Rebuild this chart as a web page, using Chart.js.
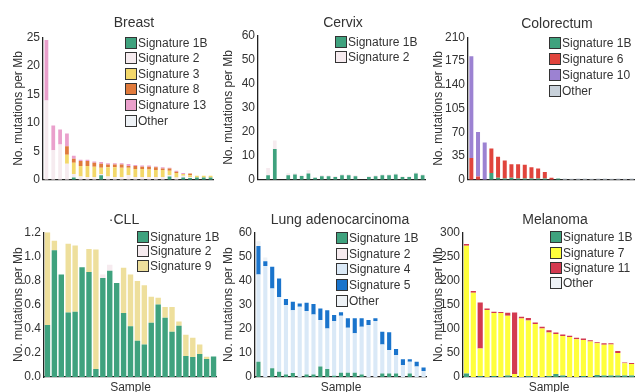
<!DOCTYPE html>
<html>
<head>
<meta charset="utf-8">
<script src="https://cdn.jsdelivr.net/npm/chart.js@4"></script>
<style>
  html, body { margin: 0; padding: 0; background: #fff; overflow: hidden; }
  #wrap { position: relative; width: 635px; height: 392px; font-family: "Liberation Sans", Arial, sans-serif; color: #333; }
  canvas { position: absolute; }
  .title { position: absolute; font-size: 14px; transform: translate(-50%, -50%); white-space: nowrap; }
  .legend { position: absolute; font-size: 12px; white-space: nowrap; }
  .legend div { display: flex; align-items: center; }
  .legend span.sw { display: inline-block; width: 10px; height: 10px; border: 1px solid #333; margin-right: 1px; }
</style>
</head>
<body>
<div id="wrap"></div>
<script>
const samples = ['1','2','3','4','5','6','7','8','9','10','11','12','13','14','15','16','17','18','19','20','21','22','23','24','25'];

// Breast
const breastSig1B  = [0,0,0,0,0.4,0,0,0,0.8,0,0,0,0,0,0,0,0,0,0.6,0,0.4,0.3,0.4,0.4,0.4];
const breastSig2   = [13.9,5.2,6.2,2.8,0.6,0.6,0.5,0.5,0.2,0.6,0.5,0.5,0.8,0.5,0.5,0.5,0.5,0.5,0.2,0.4,0.3,0.2,0,0,0];
const breastSig3   = [0,0,0,1.6,2.0,1.8,1.9,1.8,1.1,1.6,1.7,1.6,1.3,1.4,1.4,1.3,1.2,1.2,0.8,0.8,0.3,0.3,0.3,0.3,0.3];
const breastSig8   = [0,0,0,1.5,0.7,0.9,0.9,0.7,0.7,0.5,0.5,0.6,0.3,0.5,0.4,0.5,0.5,0.3,0.4,0.2,0,0.3,0,0,0];
const breastSig13  = [10.6,4.3,2.6,2.2,0.5,0.2,0.2,0.2,0.3,0.2,0.2,0.2,0.35,0.2,0.2,0.2,0.15,0.2,0.1,0.2,0.2,0,0,0,0];
const breastOther  = [0,0,0,0,0,0,0,0,0,0,0,0,0,0,0,0,0,0,0,0,0,0,0,0,0];

// Cervix
const cervixSig1B  = [0,1.9,12.8,0,1.9,2.2,1.6,2.6,0.8,1.5,1.5,1.2,1.9,1.9,1.5,0,1.2,1.5,1.9,1.9,2.2,1.2,1.2,2.6,1.9];
const cervixSig2   = [0,3.0,3.5,0,0.8,0.5,0.5,1.5,0.4,0.5,0.4,0.4,0.5,0.4,0.4,0,0.4,0.4,0.4,0.4,0.4,0.3,0.3,0.4,0.4];

// Colorectum
const coloSig1B    = [0,0,0,10,3,2,3,2,2,2,2,2,0,2,0,0,0,0,0,0,0,0,0,0,0];
const coloSig6     = [32,5,0,36,31,26.5,20,21,20,16.5,14.5,9.6,3,0,0,0,0,0,0,0,0,0,0,0,0];
const coloSig10    = [150,65.5,55,0,0,0,0,0,0,0,0,0,0,0,0,0,0,0,0,0,0,0,0,0,0];
const coloOther    = [0,0,0,0,0,0,0,0,0,0,0,0,0,0,2,1.5,2,2,1.5,2,2,1.5,2,1.5,2];

// CLL
const cllSig1B     = [0.43,1.05,0.85,0.535,0.54,0.91,0.87,0.066,0.82,0.88,0.78,0.53,0.42,0.30,0.27,0.45,0.60,0.49,0.375,0.425,0.174,0.165,0.19,0.15,0.17];
const cllSig2      = [0,0,0,0,0,0,0,0,0.03,0.05,0,0,0,0,0,0,0,0,0,0,0,0,0,0,0];
const cllSig9      = [0.77,0.08,0,0.57,0.55,0,0.19,0.99,0,0,0,0.375,0.43,0.495,0.49,0.215,0.057,0.09,0.205,0.035,0.176,0.16,0.08,0.018,0];

// Lung adenocarcinoma
const lungSig1B    = [6.3,0,3.6,2.2,1.0,1.7,0,1.0,1.0,4.3,3.3,0.5,1.8,1.8,1.8,1.0,0,0,1.5,1.5,1.5,0,1.5,0,0];
const lungSig2     = [0,0,0,0,0,0,0,0,0,0,0,0,0,0,0,0,0,0,0,0,0,0,0,0,0];
const lungSig4     = [36.2,46,33.1,31.0,28.8,26.0,29.1,26.3,24.9,19.3,16.8,22.7,23.6,18.6,16.3,19.8,21.5,23.2,12.0,9.7,7.6,5.0,4.8,4.3,2.5];
const lungSig5     = [11.8,2,9.0,7.6,2.5,3.5,1.4,3.5,4.3,4.8,7.6,2.5,1.4,3.9,6.2,3.5,2.1,1.1,5.3,7.3,2.5,2.4,1.1,2.0,1.4];
const lungOther    = [2,1.5,0,0,0,0,0,0,0,0,0,0,0,0,0,0,0,0,0,0,0,0,0,0,0];

// Melanoma
const melSig1B     = [7,0,2,0,2,0,3,0,0,2,0,0,2,6,3,0,0,2,0,4,3,3,3,3,3];
const melSig7      = [265,174.5,57.3,138.6,130.4,132.4,124,6.2,121.4,115,110,100.7,90.4,83,81.8,82.8,78,74.6,73.8,65.7,64,64.5,46.7,25.3,24];
const melSig11     = [3.5,3.5,95.2,3.4,2.6,2.1,6,127.6,3.6,5,3,3.3,4.6,3.4,3.2,2.7,3.4,3.4,2.2,2.3,3,2.2,4.1,2,2];
const melOther     = [0,0,0,0,0,0,0,0,0,0,0,0,0,0,0,0,0,0,0,0,0,0,0,0,0];

const teal = '#3fa27e';
const pale2 = '#f6ebef';
const otherPale = '#eef2f6';

const panels = [
  { title: 'Breast', tx: 134, ty: 22, labelX: 18, axisX: 43, right: 214, top: 37, bottom: 182,
    max: 25, step: 5, bar: 0.55, legX: 125, legY: 42.7, legH: 15.6,
    series: [['Signature 1B', breastSig1B, teal], ['Signature 2', breastSig2, pale2], ['Signature 3', breastSig3, '#f3d86a'],
             ['Signature 8', breastSig8, '#e07a3c'], ['Signature 13', breastSig13, '#eaa0cc'], ['Other', breastOther, otherPale]] },
  { title: 'Cervix', tx: 343, ty: 22, labelX: 228, axisX: 258, right: 426, top: 35, bottom: 182,
    max: 60, step: 10, bar: 0.55, legX: 335, legY: 41.7, legH: 15.7,
    series: [['Signature 1B', cervixSig1B, teal], ['Signature 2', cervixSig2, pale2]] },
  { title: 'Colorectum', tx: 557, ty: 23, labelX: 438, axisX: 468, right: 635, top: 37, bottom: 182,
    max: 210, step: 35, bar: 0.6, legX: 549, legY: 43.3, legH: 16,
    series: [['Signature 1B', coloSig1B, teal], ['Signature 6', coloSig6, '#e0443c'], ['Signature 10', coloSig10, '#9c82d2'], ['Other', coloOther, '#c8d1da']] },
  { title: '\u00b7CLL', tx: 124, ty: 219, labelX: 18, axisX: 44, right: 217, top: 232, bottom: 377, sample: true,
    max: 1.2, step: 0.2, dec: 1, bar: 0.78, legX: 137, legY: 236.7, legH: 14.8,
    series: [['Signature 1B', cllSig1B, teal], ['Signature 2', cllSig2, pale2], ['Signature 9', cllSig9, '#eedf9c']] },
  { title: 'Lung adenocarcinoma', tx: 340, ty: 219, labelX: 228, axisX: 255, right: 427, top: 232, bottom: 377, sample: true,
    max: 60, step: 10, bar: 0.6, legX: 336, legY: 238.3, legH: 15.6,
    series: [['Signature 1B', lungSig1B, teal], ['Signature 2', lungSig2, pale2], ['Signature 4', lungSig4, '#dae9f7'],
             ['Signature 5', lungSig5, '#1a74cc'], ['Other', lungOther, otherPale]] },
  { title: 'Melanoma', tx: 555, ty: 219, labelX: 438, axisX: 463, right: 635, top: 232, bottom: 377, sample: true,
    max: 300, step: 50, bar: 0.75, legX: 550, legY: 237.3, legH: 15.3,
    series: [['Signature 1B', melSig1B, teal], ['Signature 7', melSig7, '#ffff3c'], ['Signature 11', melSig11, '#d33a50'], ['Other', melOther, otherPale]] }
];

const wrap = document.getElementById('wrap');
const FONT = '"Liberation Sans", Arial, sans-serif';

panels.forEach(p => {
  const left = Math.round(p.labelX - 7);
  const canvasTop = p.top - 10;
  const xh = p.sample ? 18 : 8;
  const c = document.createElement('canvas');
  c.width = p.right - left;
  c.height = p.bottom + xh - canvasTop;
  c.style.left = left + 'px';
  c.style.top = canvasTop + 'px';
  wrap.appendChild(c);

  new Chart(c.getContext('2d'), {
    type: 'bar',
    data: {
      labels: samples,
      datasets: p.series.map(s => ({
        label: s[0], data: s[1], backgroundColor: s[2], borderWidth: 0,
        barPercentage: p.bar, categoryPercentage: 1
      }))
    },
    options: {
      responsive: false,
      animation: false,
      layout: { padding: { top: 10, left: 0, right: 0, bottom: 0 } },
      plugins: { legend: { display: false }, tooltip: { enabled: false } },
      scales: {
        x: {
          stacked: true,
          grid: { display: false, drawTicks: false },
          border: { display: true, color: '#222', width: 1.3 },
          ticks: { display: false },
          title: { display: !!p.sample, text: 'Sample', color: '#333', padding: 0, font: { family: FONT, size: 12 } },
          afterFit: s => { s.height = xh; }
        },
        y: {
          stacked: true, min: 0, max: p.max,
          grid: { display: false, drawTicks: false },
          border: { display: true, color: '#222', width: 1.3 },
          ticks: {
            stepSize: p.step, padding: 3, color: '#333', font: { family: FONT, size: 12 },
            callback: v => p.dec ? v.toFixed(p.dec) : v
          },
          title: { display: true, text: 'No. mutations per Mb', color: '#333', padding: 0, font: { family: FONT, size: 12 } },
          afterFit: s => { s.width = p.axisX - left; }
        }
      }
    }
  });

  const t = document.createElement('div');
  t.className = 'title';
  t.textContent = p.title;
  t.style.left = p.tx + 'px';
  t.style.top = p.ty + 'px';
  wrap.appendChild(t);

  const lg = document.createElement('div');
  lg.className = 'legend';
  lg.style.left = p.legX + 'px';
  lg.style.top = (p.legY - p.legH / 2) + 'px';
  p.series.forEach(s => {
    const row = document.createElement('div');
    row.style.height = p.legH + 'px';
    const sw = document.createElement('span');
    sw.className = 'sw';
    sw.style.background = s[2];
    row.appendChild(sw);
    row.appendChild(document.createTextNode(s[0]));
    lg.appendChild(row);
  });
  wrap.appendChild(lg);
});
</script>
</body>
</html>
